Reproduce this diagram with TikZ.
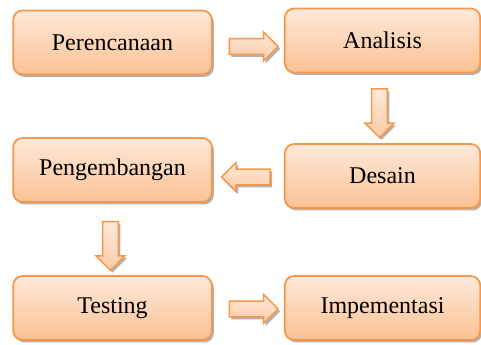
\documentclass[tikz,border=0pt]{standalone}
\usepackage{fontspec}
\setmainfont{Liberation Serif}
\usetikzlibrary{shapes.arrows,shadows,calc}
\definecolor{tahapline}{HTML}{F79646}
\definecolor{tahaptop}{HTML}{FEE9DA}
\definecolor{tahapbot}{HTML}{FBC194}
\tikzset{
  bayang/.style={drop shadow={shadow xshift=1.5pt, shadow yshift=-1.8pt, fill=black!55, opacity=0.55}},
  tahap/.style={draw=tahapline, line width=1.3pt, rounded corners=7pt,
    top color=tahaptop, bottom color=tahapbot, minimum width=149pt,
    minimum height=48pt, inner sep=0pt, font=\fontsize{18}{20}\selectfont, bayang},
  panah/.style={single arrow, draw=tahapline, line width=1.1pt,
    top color=tahaptop, bottom color=tahapbot!85, minimum height=36.5pt,
    single arrow head extend=4.9pt, single arrow head indent=0pt,
    inner sep=5.4pt, bayang}
}
\begin{document}
\begin{tikzpicture}[x=0.75pt,y=-0.75pt]
\useasboundingbox (0,0) rectangle (481,344);
% kotak tahapan
\node[tahap] (per) at (112.5,42.5) {Perencanaan};
\node[tahap, minimum width=146.5pt] (ana) at (382.5,40.5) {Analisis};
\node[tahap] (pen) at (112.5,170) {Pengembangan};
\node[tahap, minimum width=146.5pt] (des) at (382.5,176) {Desain};
\node[tahap] (tes) at (112.5,308) {Testing};
\node[tahap, minimum width=146.5pt] (imp) at (382.5,308) {Impementasi};
% panah antar tahapan
\node[panah] (p1) at ($(per.east)!0.5!(ana.west)+(1.5,5)$) {};
\node[panah, shape border rotate=270] (p2) at ($(ana.south)!0.5!(des.north)+(-3,1)$) {};
\node[panah, shape border rotate=180] (p3) at ($(des.west)!0.5!(pen.east)+(1.5,4)$) {};
\node[panah, shape border rotate=270] (p4) at ($(pen.south)!0.5!(tes.north)+(-2,3)$) {};
\node[panah] (p5) at ($(tes.east)!0.5!(imp.west)+(1.5,1)$) {};
\end{tikzpicture}
\end{document}
